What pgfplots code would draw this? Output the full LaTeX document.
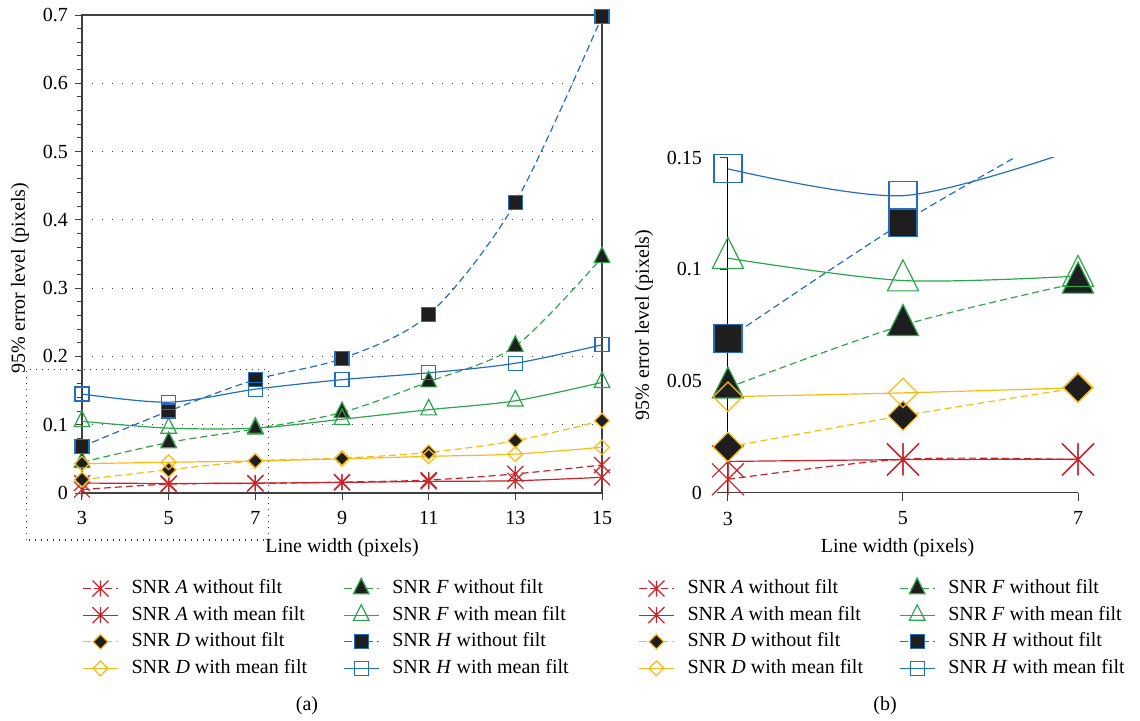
\documentclass[border=0pt]{standalone}
\usepackage{fontspec}
\setmainfont{Liberation Serif}
\usepackage{pgfplots}
\pgfplotsset{compat=1.18}
\definecolor{cA}{RGB}{200,35,40}
\definecolor{cD}{RGB}{248,186,20}
\definecolor{cF}{RGB}{45,165,75}
\definecolor{cH}{RGB}{35,110,190}
\definecolor{mfill}{RGB}{30,30,30}
\pgfdeclareplotmark{xast}{%
  \pgfpathmoveto{\pgfqpoint{0pt}{\pgfplotmarksize}}%
  \pgfpathlineto{\pgfqpoint{0pt}{-\pgfplotmarksize}}%
  \pgfpathmoveto{\pgfqpoint{-\pgfplotmarksize}{-\pgfplotmarksize}}%
  \pgfpathlineto{\pgfqpoint{\pgfplotmarksize}{\pgfplotmarksize}}%
  \pgfpathmoveto{\pgfqpoint{-\pgfplotmarksize}{\pgfplotmarksize}}%
  \pgfpathlineto{\pgfqpoint{\pgfplotmarksize}{-\pgfplotmarksize}}%
  \pgfusepathqstroke}
\pgfplotsset{
  dsh/.style={dash pattern=on 3.5pt off 2pt},
  sAwo/.style={cA, dsh, line width=0.6pt, smooth, mark=xast, mark size=4pt*\s, mark options={solid}},
  sAwi/.style={cA, solid, line width=0.6pt, smooth, mark=xast, mark size=4pt*\s, mark options={solid}},
  sDwo/.style={cD, dsh, line width=0.6pt, smooth, mark=square*, mark size=2.6pt*\s, mark options={solid, rotate=45, fill=mfill, draw=cD}},
  sDwi/.style={cD, solid, line width=0.6pt, smooth, mark=square, mark size=2.6pt*\s, mark options={solid, rotate=45}},
  sFwo/.style={cF, dsh, line width=0.6pt, smooth, mark=triangle*, mark size=4.5pt*\s, mark options={solid, yscale=1.15, fill=mfill, draw=cF}},
  sFwi/.style={cF, solid, line width=0.6pt, smooth, mark=triangle, mark size=4.5pt*\s, mark options={solid, yscale=1.15}},
  sHwo/.style={cH, dsh, line width=0.6pt, smooth, mark=square*, mark size=3.5pt*\s, mark options={solid, fill=mfill, draw=cH}},
  sHwi/.style={cH, solid, line width=0.6pt, smooth, mark=square, mark size=3.5pt*\s, mark options={solid}},
  common/.style={
    scale only axis,
    anchor=south west,
    /pgf/number format/assume math mode=true,
    tick pos=left,
    tick align=outside,
    tick style={black!75, line width=0.5pt},
    xticklabel style={yshift=-2pt},
    xlabel={Line width (pixels)},
    ylabel={95\% error level (pixels)},
    legend columns=2,
    legend image code/.code={\draw[mark repeat=2, mark phase=2, ##1] plot coordinates {(0pt,0pt) (8.75pt,0pt) (17.5pt,0pt)};},
    legend style={draw=none, fill=none, inner sep=0pt, anchor=north west, row sep=1.3pt,
      nodes={inner sep=1.5pt, text height=7pt, text depth=2pt, anchor=west},
      /tikz/every odd column/.append style={column sep=5pt},
      /tikz/every even column/.append style={column sep=16.5pt}},
  },
}
\begin{document}
\begin{tikzpicture}
\useasboundingbox (-41pt,-113.5pt) rectangle (529pt,246.5pt);
\def\s{1}
\begin{axis}[common,
  at={(0pt,0pt)},
  width=260pt, height=239pt,
  xmin=3, xmax=15, ymin=0, ymax=0.7,
  xtick={3,5,7,9,11,13,15},
  ytick={0,0.1,0.2,0.3,0.4,0.5,0.6,0.7},
  yticklabels={0,0.1,0.2,0.3,0.4,0.5,0.6,0.7},
  minor y tick num=4,
  major tick length=3.5pt, minor tick length=2.5pt,
  ymajorgrids, grid style={black!75, line width=0.6pt, dash pattern=on 0.7pt off 4.3pt},
  axis line style={black!75, line width=0.6pt},
  ylabel style={at={(ticklabel cs:0.45)}},
  clip=false,
  legend style={at={(axis description cs:0,-0.174)}},
]
\draw[black!80, line width=0.6pt, dash pattern=on 0.7pt off 2.3pt] (axis cs:1.72,-0.0687) rectangle (axis cs:7.31,0.181);
\addplot+[sAwo] coordinates {(3,0.005) (5,0.013) (7,0.014) (9,0.016) (11,0.019) (13,0.028) (15,0.041)};
\addlegendentry{SNR \textit{A} without filt}
\addplot+[sFwo] coordinates {(3,0.045) (5,0.074) (7,0.094) (9,0.118) (11,0.163) (13,0.215) (15,0.345)};
\addlegendentry{SNR \textit{F} without filt}
\addplot+[sAwi] coordinates {(3,0.0146) (5,0.014) (7,0.0145) (9,0.0155) (11,0.017) (13,0.018) (15,0.023)};
\addlegendentry{SNR \textit{A} with mean filt}
\addplot+[sFwi] coordinates {(3,0.105) (5,0.095) (7,0.095) (9,0.108) (11,0.122) (13,0.135) (15,0.162)};
\addlegendentry{SNR \textit{F} with mean filt}
\addplot+[sDwo] coordinates {(3,0.0195) (5,0.034) (7,0.047) (9,0.051) (11,0.0595) (13,0.0766) (15,0.106)};
\addlegendentry{SNR \textit{D} without filt}
\addplot+[sHwo] coordinates {(3,0.068) (5,0.12) (7,0.166) (9,0.197) (11,0.261) (13,0.425) (15,0.698)};
\addlegendentry{SNR \textit{H} without filt}
\addplot+[sDwi] coordinates {(3,0.043) (5,0.045) (7,0.047) (9,0.050) (11,0.0537) (13,0.057) (15,0.067)};
\addlegendentry{SNR \textit{D} with mean filt}
\addplot+[sHwi] coordinates {(3,0.145) (5,0.133) (7,0.152) (9,0.166) (11,0.176) (13,0.19) (15,0.217)};
\addlegendentry{SNR \textit{H} with mean filt}
\end{axis}
\def\s{2}
\begin{axis}[common,
  at={(317.5pt,0.15pt)},
  width=180.5pt, height=167.5pt,
  xmin=2.875, xmax=7, ymin=0, ymax=0.15,
  xtick={3,5,7},
  ytick={0,0.05,0.1,0.15},
  yticklabels={0,0.05,0.1,0.15},
  major tick length=4pt,
  ytick style={xshift=5.5pt},
  axis line style={draw=none},
  clip marker paths=false,
  legend image post style={/tikz/every mark/.append style={scale=0.5}},
  legend style={at={(axis description cs:-0.219,-0.249)}},
]
\draw[black!75, line width=0.6pt] (axis cs:2.875,0) -- (axis cs:7,0);
\draw[black, line width=0.5pt] (axis cs:3,0) -- (axis cs:3,0.15);
\addplot+[sAwo] coordinates {(3,0.006) (5,0.015) (7,0.0148)};
\addlegendentry{SNR \textit{A} without filt}
\addplot+[sFwo] coordinates {(3,0.047) (5,0.075) (7,0.094)};
\addlegendentry{SNR \textit{F} without filt}
\addplot+[sAwi] coordinates {(3,0.014) (5,0.0148) (7,0.015)};
\addlegendentry{SNR \textit{A} with mean filt}
\addplot+[sFwi] coordinates {(3,0.105) (5,0.095) (7,0.097)};
\addlegendentry{SNR \textit{F} with mean filt}
\addplot+[sDwo] coordinates {(3,0.0205) (5,0.0345) (7,0.047)};
\addlegendentry{SNR \textit{D} without filt}
\addplot+[sHwo] coordinates {(3,0.069) (5,0.121) (7,0.166)};
\addlegendentry{SNR \textit{H} without filt}
\addplot+[sDwi] coordinates {(3,0.043) (5,0.0447) (7,0.047)};
\addlegendentry{SNR \textit{D} with mean filt}
\addplot+[sHwi] coordinates {(3,0.145) (5,0.133) (7,0.154)};
\addlegendentry{SNR \textit{H} with mean filt}
\end{axis}
\node at (112.5pt,-106.5pt) {(a)};
\node at (401.5pt,-106.5pt) {(b)};
\end{tikzpicture}
\end{document}
